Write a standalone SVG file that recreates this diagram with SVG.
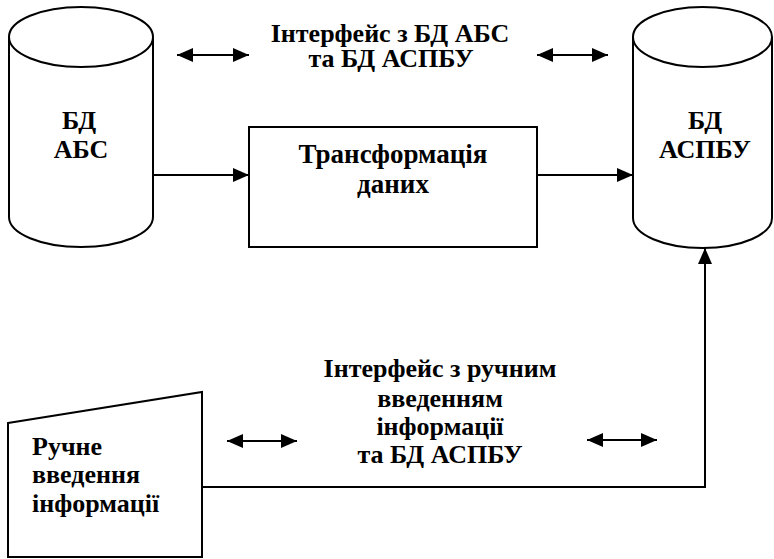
<svg xmlns="http://www.w3.org/2000/svg" width="774" height="559" viewBox="0 0 774 559">
<style>
.s{fill:#fff;stroke:#000;stroke-width:2}
.l{fill:none;stroke:#000;stroke-width:2}
</style>
<defs>
<marker id="ah" viewBox="0 0 16 14" refX="16" refY="7" markerWidth="16" markerHeight="14" markerUnits="userSpaceOnUse" orient="auto-start-reverse">
<path d="M0,0 L16,7 L0,14 Z" fill="#000"/>
</marker>
</defs>
<rect width="774" height="559" fill="#fff"/>
<g id="bd-abs">
<path class="s" d="M9,37 A72,30 0 0 1 153,37 L153,217 A72,30 0 0 1 9,217 Z"/>
<path class="l" d="M9,37 A72,30 0 0 0 153,37"/>
<text x="79" y="129" text-anchor="middle" font-family="Liberation Serif, Times New Roman, serif" font-size="26" font-weight="bold" fill="#000">БД</text>
<text x="81" y="158" text-anchor="middle" font-family="Liberation Serif, Times New Roman, serif" font-size="26" font-weight="bold" fill="#000">АБС</text>
</g>
<g id="bd-aspbu">
<path class="s" d="M633,37 A69.5,30 0 0 1 772,37 L772,218 A69.5,30 0 0 1 633,218 Z"/>
<path class="l" d="M633,37 A69.5,30 0 0 0 772,37"/>
<text x="705" y="129" text-anchor="middle" font-family="Liberation Serif, Times New Roman, serif" font-size="26" font-weight="bold" fill="#000">БД</text>
<text x="705" y="158" text-anchor="middle" font-family="Liberation Serif, Times New Roman, serif" font-size="26" font-weight="bold" fill="#000">АСПБУ</text>
</g>
<g id="transform">
<rect class="s" x="249" y="127" width="288" height="120"/>
<text x="393" y="163" text-anchor="middle" font-family="Liberation Serif, Times New Roman, serif" font-size="27" font-weight="bold" fill="#000">Трансформація</text>
<text x="393" y="193" text-anchor="middle" font-family="Liberation Serif, Times New Roman, serif" font-size="27" font-weight="bold" fill="#000">даних</text>
</g>
<g id="manual">
<path class="s" d="M8,423 L202,392 L202,557 L8,557 Z"/>
<text x="32" y="455" font-family="Liberation Serif, Times New Roman, serif" font-size="26" font-weight="bold" fill="#000">Ручне</text>
<text x="32" y="483" font-family="Liberation Serif, Times New Roman, serif" font-size="26" font-weight="bold" fill="#000">введення</text>
<text x="32" y="512" font-family="Liberation Serif, Times New Roman, serif" font-size="26" font-weight="bold" fill="#000">інформації</text>
</g>
<g id="iface-top">
<text x="390" y="42" text-anchor="middle" font-family="Liberation Serif, Times New Roman, serif" font-size="26" font-weight="bold" fill="#000">Інтерфейс з БД АБС</text>
<text x="391" y="67" text-anchor="middle" font-family="Liberation Serif, Times New Roman, serif" font-size="26" font-weight="bold" fill="#000">та БД АСПБУ</text>
</g>
<g id="iface-bottom">
<text x="440" y="377" text-anchor="middle" font-family="Liberation Serif, Times New Roman, serif" font-size="26" font-weight="bold" fill="#000">Інтерфейс з ручним</text>
<text x="440" y="407" text-anchor="middle" font-family="Liberation Serif, Times New Roman, serif" font-size="26" font-weight="bold" fill="#000">введенням</text>
<text x="440" y="435" text-anchor="middle" font-family="Liberation Serif, Times New Roman, serif" font-size="26" font-weight="bold" fill="#000">інформації</text>
<text x="440" y="463" text-anchor="middle" font-family="Liberation Serif, Times New Roman, serif" font-size="26" font-weight="bold" fill="#000">та БД АСПБУ</text>
</g>
<g id="connectors">
<line class="l" x1="177" y1="55" x2="249" y2="55" marker-start="url(#ah)" marker-end="url(#ah)"/>
<line class="l" x1="537" y1="55" x2="608" y2="55" marker-start="url(#ah)" marker-end="url(#ah)"/>
<line class="l" x1="153" y1="175" x2="249" y2="175" marker-end="url(#ah)"/>
<line class="l" x1="537" y1="175" x2="633" y2="175" marker-end="url(#ah)"/>
<line class="l" x1="227" y1="441" x2="297" y2="441" marker-start="url(#ah)" marker-end="url(#ah)"/>
<line class="l" x1="587" y1="440" x2="657" y2="440" marker-start="url(#ah)" marker-end="url(#ah)"/>
<path class="l" d="M202,487 L705,487 L705,248" marker-end="url(#ah)"/>
</g>
</svg>
